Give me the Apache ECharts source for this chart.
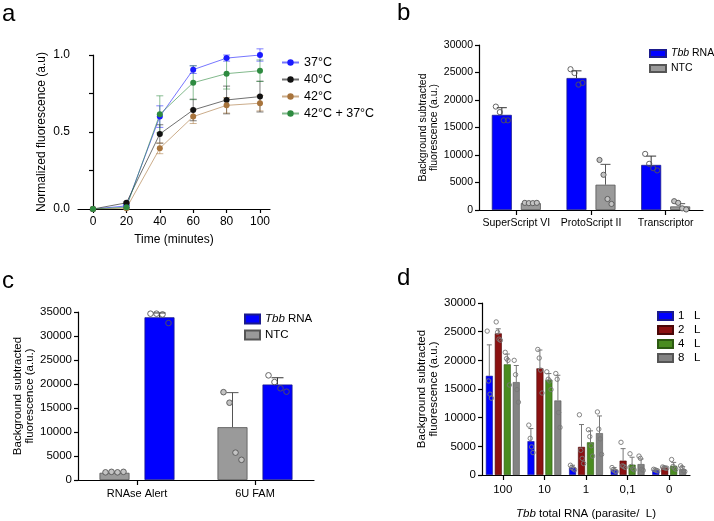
<!DOCTYPE html>
<html>
<head>
<meta charset="utf-8">
<style>
  html, body { margin: 0; padding: 0; background: #fff; }
  #chart { width: 714px; height: 521px; }
</style>
<script src="https://cdn.jsdelivr.net/npm/echarts@6/dist/echarts.min.js"></script>
</head>
<body>
<div id="chart"></div>
<script>
// --- Panel a: normalized fluorescence over time ---
const timeMin = [0, 20, 40, 60, 80, 100];
const aNames = ["37°C", "40°C", "42°C", "42°C + 37°C"];
const a37 = [0, 0.02, 0.60, 0.905, 0.98, 1.0];
const a40 = [0, 0.04, 0.487, 0.643, 0.708, 0.73];
const a42 = [0, 0.005, 0.394, 0.60, 0.673, 0.687];
const a4237 = [0, 0.012, 0.615, 0.82, 0.879, 0.898];
const a37Sd = [0, 0.01, 0.07, 0.025, 0.02, 0.04];
const a40Sd = [0, 0.005, 0.06, 0.07, 0.09, 0.10];
const a42Sd = [0, 0.005, 0.035, 0.045, 0.05, 0.05];
const a4237Sd = [0, 0.01, 0.12, 0.11, 0.10, 0.07];
const aTicks = [0, 20, 40, 60, 80, 100];

// --- Panel b: reverse transcriptases ---
const bCats = ["SuperScript VI", "ProtoScript II", "Transcriptor"];
const bTbb = [17300, 24000, 8200];
const bTbbSd = [1300, 1300, 1600];
const bTbbPts = [[18800, 17800, 16300, 16300], [25600, 24900, 22800, 23100], [10200, 8400, 7600, 7200]];
const bNtc = [1250, 4600, 650];
const bNtcSd = [80, 3700, 500];
const bNtcPts = [[1300, 1250, 1250, 1300], [9100, 6400, 2000, 1100], [1600, 1300, 300, 100]];

// --- Panel c: reporters ---
const cCats = ["RNAse Alert", "6U FAM"];
const cNtc = [1500, 11000];
const cNtcSd = [150, 7200];
const cNtcPts = [[1600, 1700, 1600, 1700], [18300, 16100, 5700, 4200]];
const cTbb = [33900, 19900];
const cTbbSd = [900, 1400];
const cTbbPts = [[34650, 34650, 34500, 32700], [21800, 20400, 19100, 18400]];

// --- Panel d: dilution series ---
const dCats = ["100", "10", "1", "0,1", "0"];
const dNames = ["1   L", "2   L", "4   L", "8   L"];
const d1 = [17300, 5900, 1300, 900, 850];
const d2 = [24700, 18600, 4900, 2500, 1300];
const d4 = [19300, 16600, 5700, 1800, 1600];
const d8 = [16200, 13000, 7300, 1900, 1000];
const d1Sd = [5400, 2200, 400, 400, 200];
const d2Sd = [800, 3200, 3900, 2100, 150];
const d4Sd = [1800, 1100, 2000, 1300, 600];
const d8Sd = [2900, 4400, 3000, 900, 450];
const d1Pts = [[25100, 16400, 14100, 13400], [8700, 6400, 4900, 3900], [1700, 1300, 1100, 900], [1300, 900, 700, 600], [1000, 900, 800, 700]];
const d2Pts = [[26700, 24900, 23700, 23500], [21900, 20400, 18300, 14300], [10500, 4300, 2900, 2000], [5700, 1600, 1500, 1300], [1400, 1300, 1200, 1200]];
const d4Pts = [[21400, 20300, 20000, 15700], [18000, 16700, 16400, 14900], [7900, 6700, 5100, 3300], [3700, 1500, 1100, 900], [2700, 1500, 1200, 1000]];
const d8Pts = [[20000, 17500, 14900, 12700], [17700, 16700, 10900, 8300], [11000, 8000, 6300, 3600], [3300, 2900, 1000, 800], [1600, 1300, 700, 600]];

// --- styling ---
const FONT = '"Liberation Sans", Arial, Helvetica, sans-serif';
const BLUE = "#0000ff", GRAY = "#9a9a9a", RED = "#8b1111", GREEN = "#4a8c20", DGRAY = "#838383";
const A_COLORS = ["#1a1aff", "#111111", "#a8743c", "#2e8b40"];
const JIT = [-0.3, -0.1, 0.1, 0.3]; // horizontal spread of replicate dots, in bar widths
const plain = (v) => String(v); // no thousands separators, as in the original

function axisBase(fontSize) {
  return {
    axisLine: { show: true, lineStyle: { color: "#000", width: 1.2 } },
    axisTick: { show: true, length: 4, lineStyle: { color: "#000", width: 1.2 } },
    axisLabel: { color: "#000", fontFamily: FONT, fontSize },
    splitLine: { show: false },
    nameTextStyle: { color: "#000", fontFamily: FONT, fontSize },
  };
}

/** Upward SD whisker on grouped bars. */
function barErr(axis, means, sds, idx, n, bw, gap, color, capW) {
  return {
    type: "custom", xAxisIndex: axis, yAxisIndex: axis, z: 6, silent: true,
    data: means.map((m, i) => [i, m, sds[i]]),
    renderItem: (params, api) => {
      const dx = (idx - (n - 1) / 2) * (bw + gap);
      const base = api.coord([api.value(0), api.value(1)]);
      const top = api.coord([api.value(0), api.value(1) + api.value(2)]);
      const x = base[0] + dx;
      const st = { stroke: color, lineWidth: 1 };
      return { type: "group", children: [
        { type: "line", shape: { x1: x, y1: base[1], x2: x, y2: top[1] }, style: st },
        { type: "line", shape: { x1: x - capW / 2, y1: top[1], x2: x + capW / 2, y2: top[1] }, style: st },
      ] };
    },
  };
}

/** Replicate dots on grouped bars. */
function barPts(axis, pts, idx, n, bw, gap, fill, stroke, r) {
  return {
    type: "custom", xAxisIndex: axis, yAxisIndex: axis, z: 7, silent: true,
    data: pts.flatMap((arr, i) => arr.map((v, k) => [i, v, k])),
    renderItem: (params, api) => {
      const dx = (idx - (n - 1) / 2) * (bw + gap);
      const c = api.coord([api.value(0), api.value(1)]);
      return {
        type: "circle",
        shape: { cx: c[0] + dx + JIT[api.value(2)] * bw, cy: c[1], r },
        style: { fill, stroke, lineWidth: 0.9 },
      };
    },
  };
}

/** Symmetric error bars for the time course. */
function lineErr(vals, sds, color) {
  return {
    type: "custom", xAxisIndex: 0, yAxisIndex: 0, z: 3, silent: true,
    data: timeMin.map((t, i) => [t, vals[i], sds[i]]),
    renderItem: (params, api) => {
      const t = api.value(0), v = api.value(1), e = api.value(2);
      if (!e) return null;
      const hi = api.coord([t, v + e]), lo = api.coord([t, v - e]);
      const x = hi[0];
      const st = { stroke: color, lineWidth: 1, opacity: 0.55 };
      return { type: "group", children: [
        { type: "line", shape: { x1: x, y1: lo[1], x2: x, y2: hi[1] }, style: st },
        { type: "line", shape: { x1: x - 3.5, y1: hi[1], x2: x + 3.5, y2: hi[1] }, style: st },
        { type: "line", shape: { x1: x - 3.5, y1: lo[1], x2: x + 3.5, y2: lo[1] }, style: st },
      ] };
    },
  };
}

const tbbRich = { i: { fontStyle: "italic", fontFamily: FONT } };
const tbbFmt = (name) => (name === "Tbb RNA" ? "{i|Tbb} RNA" : name);

const aSeriesVals = [a37, a40, a42, a4237];
const aSeriesSd = [a37Sd, a40Sd, a42Sd, a4237Sd];

const B_BW = 20, B_GAP = 9, C_BW = 30, C_GAP = 15, D_BW = 7, D_GAP = 2;
const dVals = [d1, d2, d4, d8], dSds = [d1Sd, d2Sd, d4Sd, d8Sd], dPts = [d1Pts, d2Pts, d4Pts, d8Pts];
const dColors = [BLUE, RED, GREEN, DGRAY];
const dBorders = ["#1a1a8c", "#4a0808", "#2c5a12", "#555"];

const yName2 = "Background subtracted\nfluorescence (a.u.)";

const option = {
  animation: false,
  backgroundColor: "#fff",
  textStyle: { fontFamily: FONT },
  graphic: [
    { type: "text", left: 2, top: 2, style: { text: "a", font: `24px ${FONT}`, fill: "#000" } },
    { type: "text", left: 397, top: 1, style: { text: "b", font: `24px ${FONT}`, fill: "#000" } },
    { type: "text", left: 2, top: 269, style: { text: "c", font: `24px ${FONT}`, fill: "#000" } },
    { type: "text", left: 397, top: 266, style: { text: "d", font: `24px ${FONT}`, fill: "#000" } },
  ],
  grid: [
    { left: 78, top: 55, width: 192, height: 154 },
    { left: 479, top: 45, width: 224, height: 165 },
    { left: 78, top: 312, width: 236, height: 168 },
    { left: 482, top: 303, width: 208, height: 175 },
  ],
  legend: [
    {
      orient: "vertical", left: 276, top: 51, itemWidth: 17, itemHeight: 8, itemGap: 4,
      data: aNames, textStyle: { color: "#000", fontFamily: FONT, fontSize: 12.5 },
    },
    {
      orient: "vertical", left: 644, top: 43, itemWidth: 16, itemHeight: 7, itemGap: 4,
      icon: "rect", data: ["Tbb RNA", "NTC"], formatter: tbbFmt,
      textStyle: { color: "#000", fontFamily: FONT, fontSize: 10.5, rich: tbbRich },
    },
    {
      orient: "vertical", left: 239, top: 308, itemWidth: 15, itemHeight: 9, itemGap: 4,
      icon: "rect", data: ["Tbb RNA", "NTC"], formatter: tbbFmt,
      textStyle: { color: "#000", fontFamily: FONT, fontSize: 11.5, rich: tbbRich },
    },
    {
      orient: "vertical", left: 652, top: 305, itemWidth: 15, itemHeight: 8, itemGap: 2,
      icon: "rect", data: dNames,
      textStyle: { color: "#000", fontFamily: FONT, fontSize: 11.5 },
    },
  ],
  xAxis: [
    Object.assign(axisBase(12), {
      gridIndex: 0, type: "value", min: -9, max: 106,
      name: "Time (minutes)", nameLocation: "middle", nameGap: 25,
      axisLabel: { color: "#000", fontFamily: FONT, fontSize: 12, margin: 7, customValues: aTicks },
      axisTick: { show: true, length: 4, lineStyle: { color: "#000", width: 1.2 }, customValues: aTicks },
    }),
    Object.assign(axisBase(10.5), {
      gridIndex: 1, type: "category", data: bCats,
      axisTick: { show: true, length: 5, alignWithLabel: true, lineStyle: { color: "#000", width: 1.2 } },
      axisLabel: { color: "#000", fontFamily: FONT, fontSize: 10.5, margin: 8, interval: 0 },
    }),
    Object.assign(axisBase(11), {
      gridIndex: 2, type: "category", data: cCats,
      axisTick: { show: true, length: 5, alignWithLabel: true, lineStyle: { color: "#000", width: 1.2 } },
      axisLabel: { color: "#000", fontFamily: FONT, fontSize: 11, margin: 8 },
    }),
    Object.assign(axisBase(11.5), {
      gridIndex: 3, type: "category", data: dCats,
      name: "{i|Tbb} total RNA (parasite/  L)", nameLocation: "middle", nameGap: 33,
      nameTextStyle: { color: "#000", fontFamily: FONT, fontSize: 11.5, rich: { i: { fontStyle: "italic", fontFamily: FONT, fontSize: 11.5 } } },
      axisTick: { show: true, length: 5, alignWithLabel: true, lineStyle: { color: "#000", width: 1.2 } },
      axisLabel: { color: "#000", fontFamily: FONT, fontSize: 11.5, margin: 9, interval: 0 },
    }),
  ],
  yAxis: [
    Object.assign(axisBase(12), {
      gridIndex: 0, type: "value", min: 0, max: 1, interval: 0.25,
      name: "Normalized fluorescence (a.u)", nameLocation: "middle", nameGap: 30,
      nameTextStyle: { color: "#000", fontFamily: FONT, fontSize: 12 },
      axisLabel: {
        color: "#000", fontFamily: FONT, fontSize: 12, margin: 8,
        formatter: (v) => (v === 0 || v === 0.5 || v === 1 ? v.toFixed(1) : ""),
      },
    }),
    Object.assign(axisBase(10.5), {
      gridIndex: 1, type: "value", min: 0, max: 30000, interval: 5000,
      name: yName2, nameLocation: "middle", nameGap: 37,
      axisLabel: { color: "#000", fontFamily: FONT, fontSize: 10.5, margin: 6, formatter: plain },
    }),
    Object.assign(axisBase(11.5), {
      gridIndex: 2, type: "value", min: 0, max: 35000, interval: 5000,
      name: yName2, nameLocation: "middle", nameGap: 33,
      axisLabel: { color: "#000", fontFamily: FONT, fontSize: 11.5, margin: 6, formatter: plain },
    }),
    Object.assign(axisBase(11.5), {
      gridIndex: 3, type: "value", min: 0, max: 30000, interval: 5000,
      name: yName2, nameLocation: "middle", nameGap: 42,
      axisLabel: { color: "#000", fontFamily: FONT, fontSize: 11.5, margin: 6, formatter: plain },
    }),
  ],
  series: [],
};

// Panel a
aNames.forEach((name, k) => {
  option.series.push(lineErr(aSeriesVals[k], aSeriesSd[k], A_COLORS[k]));
  option.series.push({
    name, type: "line", xAxisIndex: 0, yAxisIndex: 0, z: 4,
    data: timeMin.map((t, i) => [t, aSeriesVals[k][i]]),
    symbol: "circle", symbolSize: 6,
    itemStyle: { color: A_COLORS[k] },
    lineStyle: { color: A_COLORS[k], width: 1, opacity: 0.6 },
  });
});

// Panel b
option.series.push(
  { name: "Tbb RNA", type: "bar", xAxisIndex: 1, yAxisIndex: 1, data: bTbb, barWidth: B_BW, barGap: "45%",
    itemStyle: { color: BLUE, borderColor: "#1a1a8c", borderWidth: 0.8 } },
  { name: "NTC", type: "bar", xAxisIndex: 1, yAxisIndex: 1, data: bNtc, barWidth: B_BW, barGap: "45%",
    itemStyle: { color: GRAY, borderColor: "#555", borderWidth: 0.8 } },
  barErr(1, bTbb, bTbbSd, 0, 2, B_BW, B_GAP, "#333", 10),
  barErr(1, bNtc, bNtcSd, 1, 2, B_BW, B_GAP, "#555", 10),
  barPts(1, bTbbPts, 0, 2, B_BW, B_GAP, "rgba(255,255,255,0)", "#555", 2.6),
  barPts(1, bNtcPts, 1, 2, B_BW, B_GAP, "#c4c4c4", "#555", 2.6),
);

// Panel c
option.series.push(
  { name: "NTC", type: "bar", xAxisIndex: 2, yAxisIndex: 2, data: cNtc, barWidth: C_BW, barGap: "50%",
    itemStyle: { color: GRAY, borderColor: "#555", borderWidth: 0.8 } },
  { name: "Tbb RNA", type: "bar", xAxisIndex: 2, yAxisIndex: 2, data: cTbb, barWidth: C_BW, barGap: "50%",
    itemStyle: { color: BLUE, borderColor: "#1a1a8c", borderWidth: 0.8 } },
  barErr(2, cNtc, cNtcSd, 0, 2, C_BW, C_GAP, "#555", 12),
  barErr(2, cTbb, cTbbSd, 1, 2, C_BW, C_GAP, "#333", 12),
  barPts(2, cNtcPts, 0, 2, C_BW, C_GAP, "#c4c4c4", "#555", 2.8),
  barPts(2, cTbbPts, 1, 2, C_BW, C_GAP, "rgba(255,255,255,0)", "#555", 2.8),
);

// Panel d
dNames.forEach((name, k) => {
  option.series.push({
    name, type: "bar", xAxisIndex: 3, yAxisIndex: 3, data: dVals[k], barWidth: D_BW, barGap: "28%",
    itemStyle: { color: dColors[k], borderColor: dBorders[k], borderWidth: 0.6 },
  });
});
dNames.forEach((name, k) => {
  option.series.push(barErr(3, dVals[k], dSds[k], k, 4, D_BW, D_GAP, "#777", 5));
  option.series.push(barPts(3, dPts[k], k, 4, D_BW, D_GAP, "rgba(255,255,255,0)", "#777", 2.2));
});

const chart = echarts.init(document.getElementById("chart"), null, { renderer: "canvas" });
chart.setOption(option);
</script>
</body>
</html>
